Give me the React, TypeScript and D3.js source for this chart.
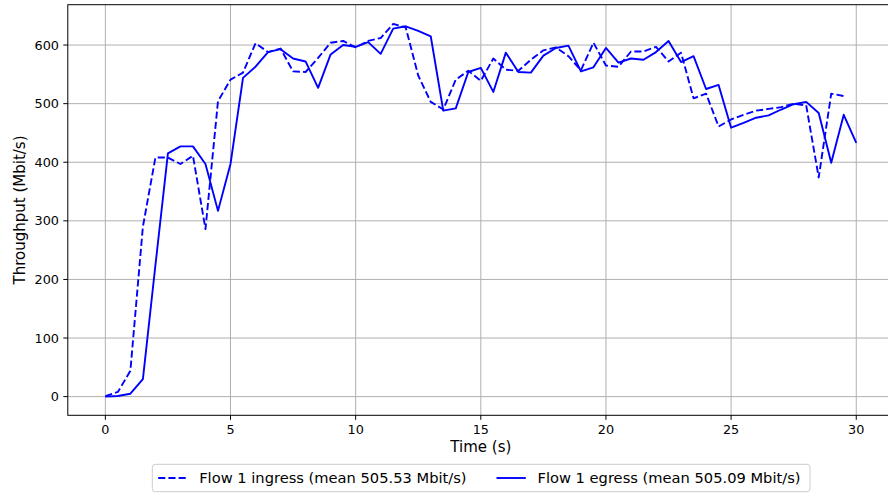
import React from "react";
import * as d3 from "d3";

const timeIngress = [0,0.5,1,1.5,2,2.5,3,3.5,4,4.5,5,5.5,6,6.5,7,7.5,8,8.5,9,9.5,10,10.5,11,11.5,12,12.5,13,13.5,14,14.5,15,15.5,16,16.5,17,17.5,18,18.5,19,19.5,20,20.5,21,21.5,22,22.5,23,23.5,24,24.5,25,25.5,26,26.5,27,27.5,28,28.5,29,29.5];
const ingress = [1,8,44,290,408,408,397,411,286,504,541,553,603,588,594,555,554,578,604,607,596,607,612,636,630,548,503,490,541,556,539,577,558,556,575,591,596,581,557,604,565,563,589,589,597,572,587,509,517,461,473,481,488,491,494,500,497,374,517,513];

const timeEgress = [0,0.5,1,1.5,2,2.5,3,3.5,4,4.5,5,5.5,6,6.5,7,7.5,8,8.5,9,9.5,10,10.5,11,11.5,12,12.5,13,13.5,14,14.5,15,15.5,16,16.5,17,17.5,18,18.5,19,19.5,20,20.5,21,21.5,22,22.5,23,23.5,24,24.5,25,25.5,26,26.5,27,27.5,28,28.5,29,29.5,30];
const egress = [0,1,5,30,224,415,427,427,397,317,397,544,563,588,593,577,572,527,584,600,597,605,585,628,632,624,615,488,492,554,561,520,587,554,553,582,595,599,555,562,595,570,577,575,588,607,571,581,525,532,459,467,476,480,490,499,503,484,399,481,433];

const xTicks = [0, 5, 10, 15, 20, 25, 30];
const yTicks = [0, 100, 200, 300, 400, 500, 600];
const seriesLabels = ["Flow 1 ingress (mean 505.53 Mbit/s)", "Flow 1 egress (mean 505.09 Mbit/s)"];
const xLabel = "Time (s)";
const yLabel = "Throughput (Mbit/s)";

const W = 888, H = 494;
const L = 67.8, R = 893.8, T = 4.7, B = 415.3;
const FONT = "DejaVu Sans, sans-serif";
const BLUE = "#0000ff";

export default function App() {
  const x = d3.scaleLinear().domain([-1.5, 31.5]).range([L, R]);
  const y = d3.scaleLinear().domain([-31.85, 668.85]).range([B, T]);
  const lineIn = d3.line<number>().x((_, i) => x(timeIngress[i])).y((d) => y(d));
  const lineEg = d3.line<number>().x((_, i) => x(timeEgress[i])).y((d) => y(d));

  const legY = 478;
  return (
    <svg width={W} height={H} style={{ position: "absolute", left: 0, top: 0, background: "#fff" }} fontFamily={FONT}>
      <defs>
        <clipPath id="plotclip">
          <rect x={L} y={T} width={R - L} height={B - T} />
        </clipPath>
      </defs>
      <rect x={0} y={0} width={W} height={H} fill="#fff" />
      {/* grid */}
      {xTicks.map((t) => (
        <line key={"gx" + t} x1={x(t)} x2={x(t)} y1={T} y2={B} stroke="#b0b0b0" strokeWidth={1} />
      ))}
      {yTicks.map((t) => (
        <line key={"gy" + t} x1={L} x2={R} y1={y(t)} y2={y(t)} stroke="#b0b0b0" strokeWidth={1} />
      ))}
      {/* lines */}
      <g clipPath="url(#plotclip)">
        <path d={lineIn(ingress) || ""} fill="none" stroke={BLUE} strokeWidth={1.9} strokeDasharray="7.1 3.1" strokeLinejoin="round" />
        <path d={lineEg(egress) || ""} fill="none" stroke={BLUE} strokeWidth={1.9} strokeLinejoin="round" />
      </g>
      {/* spines */}
      <rect x={L} y={T} width={R - L} height={B - T} fill="none" stroke="#000" strokeWidth={1} />
      {/* x ticks */}
      {xTicks.map((t) => (
        <g key={"xt" + t}>
          <line x1={x(t)} x2={x(t)} y1={B} y2={B + 4.5} stroke="#000" strokeWidth={1} />
          <text x={x(t)} y={433.5} fontSize={12.8} textAnchor="middle" fill="#000">{t}</text>
        </g>
      ))}
      {/* y ticks */}
      {yTicks.map((t) => (
        <g key={"yt" + t}>
          <line x1={L - 4.5} x2={L} y1={y(t)} y2={y(t)} stroke="#000" strokeWidth={1} />
          <text x={59} y={y(t)} dy="0.36em" fontSize={12.8} textAnchor="end" fill="#000">{t}</text>
        </g>
      ))}
      {/* axis labels */}
      <text x={(L + R) / 2} y={452} fontSize={15} textAnchor="middle" fill="#000">{xLabel}</text>
      <text transform={`translate(25,${(T + B) / 2}) rotate(-90)`} fontSize={15} textAnchor="middle" fill="#000">{yLabel}</text>
      {/* legend */}
      <rect x={152.3} y={464.3} width={810 - 152.3} height={491.7 - 464.3} rx={3} fill="#fff" stroke="#cccccc" strokeWidth={1} />
      <line x1={158.2} x2={187.5} y1={legY} y2={legY} stroke={BLUE} strokeWidth={1.9} strokeDasharray="7.1 3.1" />
      <text x={199.2} y={legY} dy="0.36em" fontSize={14.67} fill="#000">{seriesLabels[0]}</text>
      <line x1={496.5} x2={525.8} y1={legY} y2={legY} stroke={BLUE} strokeWidth={1.9} />
      <text x={537.5} y={legY} dy="0.36em" fontSize={14.67} fill="#000">{seriesLabels[1]}</text>
    </svg>
  );
}
